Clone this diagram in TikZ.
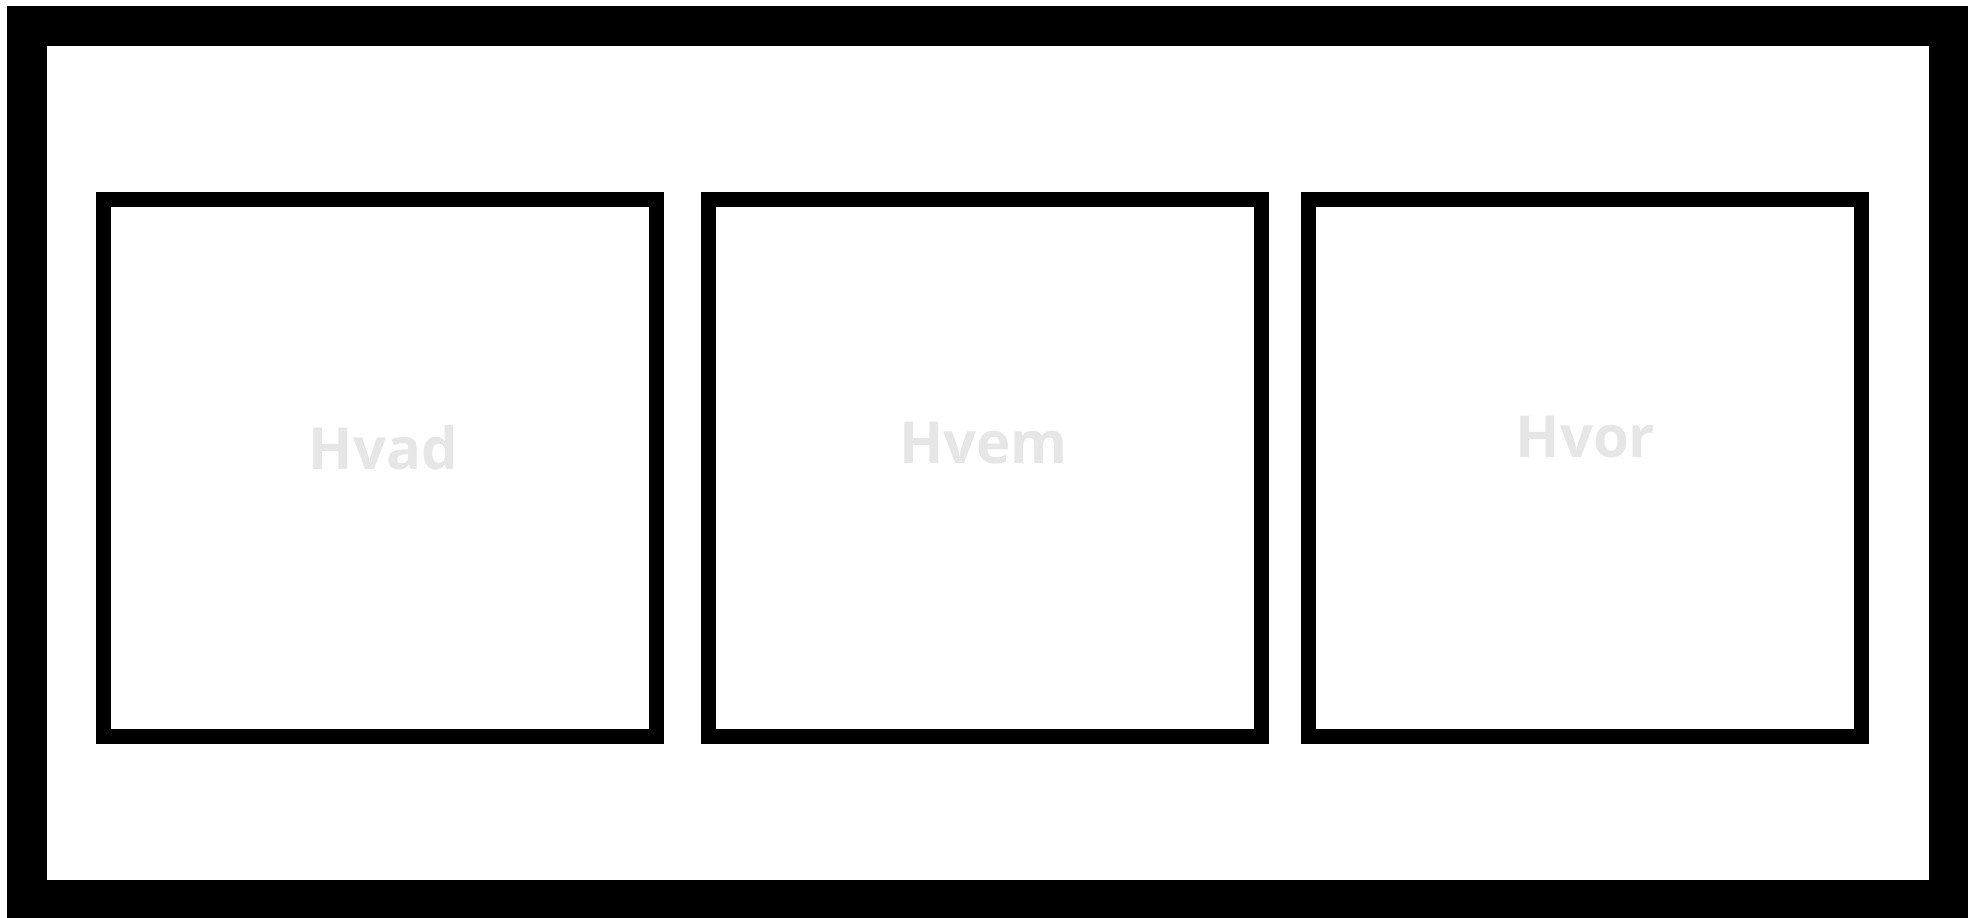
\documentclass[tikz,border=0pt]{standalone}
\usepackage{fontspec}
\setmainfont{Open Sans}
\definecolor{lightword}{HTML}{E6E6E6}
\tikzset{
  panel/.style={draw, line width=15pt, minimum width=553pt, minimum height=537pt, inner sep=0pt},
  word/.style={text=lightword, font=\fontsize{58}{60}\selectfont\bfseries, anchor=base, inner sep=0pt}
}
\begin{document}
\begin{tikzpicture}[x=1pt,y=-1pt]
\useasboundingbox (0,0) rectangle (1968,918);
\draw[line width=40pt] (27,26) rectangle (1949,900);

\node[panel] (hvad) at (380,468) {};
\node[panel] (hvem) at (984.5,468) {};
\node[panel] (hvor) at (1585,468) {};

\node[word] (hvadtxt) at (383.5,469) {Hvad};
\node[word] (hvemtxt) at (983.5,463) {Hvem};
\node[word] (hvortxt) at (1585.5,457) {Hvor};
\end{tikzpicture}
\end{document}
